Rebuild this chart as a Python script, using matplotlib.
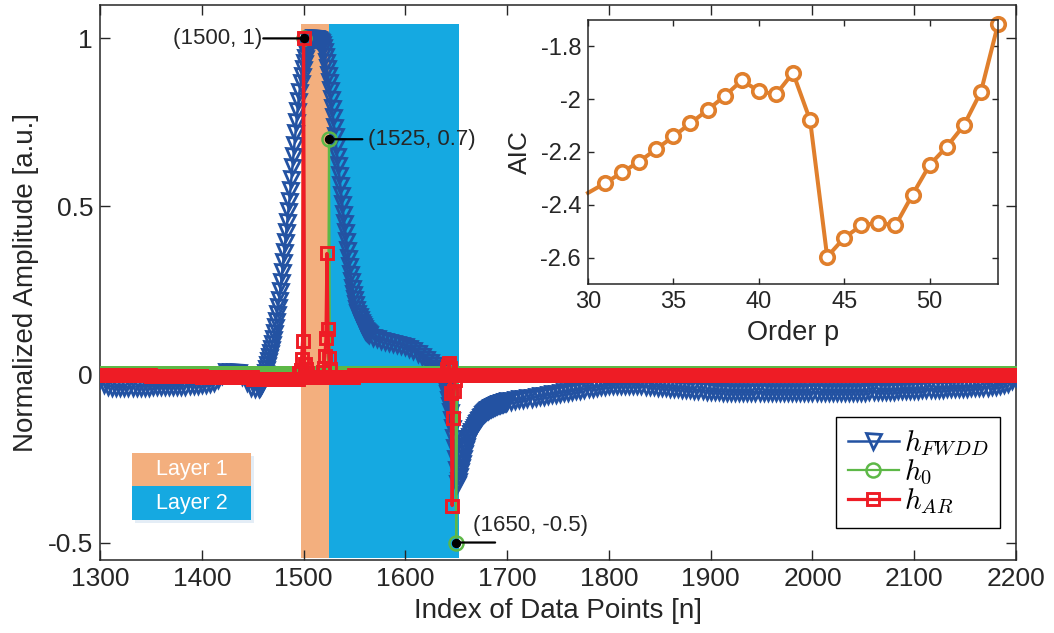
import numpy as np
import matplotlib
matplotlib.use("Agg")
import matplotlib.pyplot as plt
from matplotlib.patches import Rectangle
from matplotlib.ticker import FuncFormatter

plt.rcParams['font.family'] = ['Liberation Sans', 'DejaVu Sans']
plt.rcParams['mathtext.fontset'] = 'cm'
plt.rcParams['axes.unicode_minus'] = False

# ------------------------------------------------------------------ data
# h_FWDD (coarse in flat parts, per index on steep parts)
fwdd_x_a = np.arange(1300, 1456, 4)
fwdd_y_a = [-0.012, -0.028, -0.034, -0.036, -0.037, -0.037, -0.037, -0.037, -0.036, -0.036,
            -0.036, -0.036, -0.036, -0.035, -0.035, -0.035, -0.035, -0.035, -0.034, -0.034,
            -0.034, -0.033, -0.032, -0.031, -0.030, -0.029, -0.028, -0.026, -0.022, -0.014,
            -0.002, 0.006, 0.008, 0.008, 0.006, -0.004, -0.022, -0.036, -0.041]
fwdd_x_b = np.arange(1456, 1564)
fwdd_y_b = [-0.040, -0.037, -0.032, -0.025, -0.016, -0.006, 0.005, 0.016, 0.028, 0.040,
            0.052, 0.064, 0.077, 0.090, 0.105, 0.122, 0.140, 0.160, 0.180, 0.200,
            0.222, 0.248, 0.276, 0.305, 0.335, 0.365, 0.395, 0.425, 0.455, 0.485,
            0.515, 0.548, 0.582, 0.616, 0.650, 0.684, 0.718, 0.752, 0.785, 0.815,
            0.842, 0.866, 0.888, 0.908, 0.926, 0.942, 0.956, 0.968, 0.978, 0.986,
            0.992, 0.996, 0.999, 1.000, 1.000, 1.000, 1.000, 0.999, 0.998, 0.996,
            0.993, 0.988, 0.982, 0.975, 0.962, 0.947, 0.930, 0.912, 0.892, 0.870,
            0.846, 0.820, 0.793, 0.765, 0.737, 0.709, 0.680, 0.651, 0.622, 0.593,
            0.564, 0.535, 0.507, 0.479, 0.451, 0.424, 0.397, 0.371, 0.346, 0.322,
            0.299, 0.278, 0.258, 0.240, 0.224, 0.209, 0.196, 0.184, 0.173, 0.164,
            0.156, 0.149, 0.143, 0.138, 0.133, 0.129, 0.125, 0.122]
fwdd_x_c = np.arange(1564, 1632, 4)
fwdd_y_c = [0.119, 0.113, 0.108, 0.104, 0.101, 0.098, 0.095, 0.092, 0.089, 0.085,
            0.079, 0.072, 0.064, 0.056, 0.047, 0.038, 0.028]
fwdd_x_d = np.arange(1632, 1700)
fwdd_y_d = [0.018, 0.013, 0.008, 0.002, -0.005, -0.013, -0.022, -0.033, -0.045, -0.059,
            -0.075, -0.093, -0.113, -0.135, -0.160, -0.188, -0.218, -0.250, -0.285, -0.325,
            -0.318, -0.303, -0.288, -0.275, -0.262, -0.248, -0.235, -0.223, -0.212, -0.202,
            -0.193, -0.185, -0.178, -0.171, -0.165, -0.159, -0.153, -0.148, -0.143, -0.138,
            -0.134, -0.130, -0.126, -0.122, -0.119, -0.116, -0.113, -0.110, -0.107, -0.105,
            -0.103, -0.101, -0.099, -0.097, -0.096, -0.094, -0.093, -0.092, -0.090, -0.089,
            -0.088, -0.087, -0.086, -0.085, -0.084, -0.083, -0.082, -0.081]
fwdd_x_e = np.arange(1700, 2201, 4)
fwdd_y_e = [-0.080, -0.078, -0.076, -0.074, -0.073, -0.071, -0.069, -0.067, -0.065, -0.063,
            -0.061, -0.059, -0.057, -0.055, -0.053, -0.051, -0.049, -0.047, -0.045, -0.043,
            -0.041, -0.039, -0.037, -0.035, -0.033, -0.032, -0.031, -0.030, -0.030, -0.030,
            -0.030, -0.030, -0.031, -0.032, -0.033, -0.034, -0.035, -0.036, -0.037, -0.038,
            -0.039, -0.040, -0.041, -0.042, -0.043, -0.044, -0.045, -0.046, -0.047, -0.048,
            -0.049, -0.050, -0.050, -0.051, -0.051, -0.051, -0.052, -0.052, -0.052, -0.052,
            -0.052, -0.052, -0.052, -0.052, -0.052, -0.052, -0.052, -0.052, -0.052, -0.052,
            -0.052, -0.052, -0.052, -0.052, -0.052, -0.052, -0.052, -0.052, -0.052, -0.052,
            -0.052, -0.052, -0.052, -0.052, -0.052, -0.051, -0.051, -0.051, -0.051, -0.050,
            -0.050, -0.050, -0.049, -0.049, -0.048, -0.048, -0.047, -0.047, -0.046, -0.046,
            -0.045, -0.045, -0.044, -0.044, -0.043, -0.043, -0.042, -0.042, -0.041, -0.041,
            -0.040, -0.040, -0.039, -0.039, -0.038, -0.038, -0.037, -0.037, -0.036, -0.035,
            -0.034, -0.032, -0.029, -0.024, -0.016, -0.008]

# h_0: zero everywhere except three impulses
n_index = np.arange(1300, 2201)
h0_spike_n = [1500, 1525, 1650]
h0_spike_val = [1.0, 0.7, -0.5]

# h_AR: near-zero baseline (per 50-sample block) plus spikes
ar_block_len = 50
ar_block_base = [-0.002, -0.004, -0.008, -0.013, -0.008, -0.003, -0.002, -0.001, -0.002, -0.002,
                 -0.003, -0.002, -0.002, -0.003, -0.003, -0.002, -0.002, -0.003, -0.003]
ar_spike_n = [1496, 1497, 1498, 1499, 1500, 1501, 1502, 1503,
              1519, 1520, 1521, 1522, 1523, 1524, 1525, 1526,
              1641, 1642, 1643, 1644, 1645, 1646, 1647, 1648, 1649]
ar_spike_val = [0.005, 0.012, 0.045, 0.10, 1.0, 0.03, 0.015, 0.004,
                0.008, 0.02, 0.055, 0.11, 0.36, 0.135, 0.05, 0.015,
                0.015, 0.025, 0.035, 0.02, -0.056, -0.39, -0.13, -0.05, -0.015]

# layers
layer_names = ["Layer 1", "Layer 2"]
layer_start = [1497.5, 1525]
layer_end = [1525, 1653]

# annotated points
annot_n = [1500, 1525, 1650]
annot_val = [1.0, 0.7, -0.5]
annot_text = ["(1500, 1)", "(1525, 0.7)", "(1650, -0.5)"]

# inset: AIC vs order p
aic_p = np.arange(30, 55)
aic_val = [-2.355, -2.318, -2.277, -2.236, -2.189, -2.141, -2.091, -2.041, -1.988, -1.929,
           -1.969, -1.982, -1.900, -2.079, -2.597, -2.525, -2.478, -2.468, -2.478, -2.361,
           -2.249, -2.180, -2.099, -1.972, -1.716]

# ------------------------------------------------------------------ build series
fwdd_x = np.concatenate([fwdd_x_a, fwdd_x_b, fwdd_x_c, fwdd_x_d, fwdd_x_e])
fwdd_y = np.concatenate([fwdd_y_a, fwdd_y_b, fwdd_y_c, fwdd_y_d, fwdd_y_e])

h0_y = np.zeros(len(n_index))
h0_y[np.array(h0_spike_n) - n_index[0]] = h0_spike_val

ar_y = np.repeat(ar_block_base, ar_block_len)[:len(n_index)].astype(float)
ar_y[np.array(ar_spike_n) - n_index[0]] = ar_spike_val

# ------------------------------------------------------------------ style
W, H = 1054, 633
TXT = '#262626'
C_BLUE = '#2352A2'
C_GREEN = '#5DB847'
C_RED = '#EE1C25'
C_ORANGE = '#E07F2C'
C_L1 = '#F3AF7E'
C_L2 = '#15A9E1'
PX = 72.0 / 100.0  # points per pixel


def fig_rect(x0, y0, x1, y1):
    return [x0 / W, 1 - y1 / H, (x1 - x0) / W, (y1 - y0) / H]


fig = plt.figure(figsize=(W / 100, H / 100), dpi=100)
ax = fig.add_axes(fig_rect(100, 4.8, 1016, 560))

# layer bands
for s, e, c in zip(layer_start, layer_end, [C_L1, C_L2]):
    ax.add_patch(Rectangle((s, -0.545), e - s, 1.042 + 0.545, facecolor=c,
                           edgecolor='none', zorder=1))

ax.plot(fwdd_x, fwdd_y, color=C_BLUE, lw=1.8, marker='v', ms=15 * PX,
        mfc='none', mec=C_BLUE, mew=2.0, zorder=3, label=r'$h_{FWDD}$')
ax.plot(n_index, h0_y, color=C_GREEN, lw=1.6, marker='o', ms=14 * PX,
        mfc='none', mec=C_GREEN, mew=1.8, zorder=4, label=r'$h_0$')
ax.plot(n_index, ar_y, color=C_RED, lw=2.3, marker='s', ms=12.5 * PX,
        mfc='none', mec=C_RED, mew=2.1, zorder=5, label=r'$h_{AR}$')

# annotations
line_off = [(-29, 0), (24, 0), (28, 0)]
text_off = [(-30, 0), (28, 0), (12, 12)]
text_ha = ['right', 'left', 'left']
for n, v, t, lo, to, ha in zip(annot_n, annot_val, annot_text, line_off, text_off, text_ha):
    ax.annotate('', xy=(n, v), xytext=lo, textcoords='offset points',
                arrowprops=dict(arrowstyle='-', color='black', lw=1.6,
                                shrinkA=0, shrinkB=0), zorder=7)
    ax.plot([n], [v], marker='o', ms=8 * PX, color='black', zorder=8)
    ax.annotate(t, xy=(n, v), xytext=to, textcoords='offset points',
                ha=ha, va='center', fontsize=16, color=TXT, zorder=8)

ax.set_xlim(1300, 2200)
ax.set_ylim(-0.552, 1.10)
ax.set_xticks(np.arange(1300, 2201, 100))
ax.set_yticks([-0.5, 0, 0.5, 1])
fmt = FuncFormatter(lambda v, p: ('%g' % v))
ax.yaxis.set_major_formatter(fmt)
ax.tick_params(direction='in', length=7, width=1, top=True, right=True,
               labelsize=19, colors=TXT, pad=5)
for sp in ax.spines.values():
    sp.set_color(TXT)
    sp.set_linewidth(1.1)
ax.set_xlabel('Index of Data Points [n]', fontsize=20, color=TXT, labelpad=5)
ax.set_ylabel('Normalized Amplitude [a.u.]', fontsize=20, color=TXT, labelpad=6)

# legend
leg = ax.legend(loc='upper right', bbox_to_anchor=((1000 - 100) / 916, (560 - 417) / 555.2),
                borderaxespad=0, fontsize=21, frameon=True, fancybox=False,
                handlelength=1.75, handletextpad=0.18, labelspacing=0.0,
                borderpad=0.4)
leg.get_frame().set_edgecolor('black')
leg.get_frame().set_linewidth(1.0)
leg.get_frame().set_alpha(1)
leg.set_zorder(10)

# layer label boxes (axes fraction)
bx0 = (132 - 100) / 916
bw = (251 - 132) / 916
box_y = [((560 - 486) / 555.2, (486 - 453) / 555.2), ((560 - 520) / 555.2, (520 - 486) / 555.2)]
for (y0, hh) in box_y:
    ax.add_patch(Rectangle((bx0 + 0.003, y0 - 0.006), bw, hh, transform=ax.transAxes,
                           facecolor='#e4edf6', edgecolor='none', zorder=8))
for (y0, hh), name, c in zip(box_y, layer_names, [C_L1, C_L2]):
    ax.add_patch(Rectangle((bx0, y0), bw, hh, transform=ax.transAxes,
                           facecolor=c, edgecolor='none', zorder=9))
    ax.text(bx0 + bw / 2, y0 + hh / 2, name, transform=ax.transAxes, ha='center',
            va='center', fontsize=15.5, color='white', zorder=10)

# inset
axi = fig.add_axes(fig_rect(588, 20, 998, 284))
axi.set_zorder(11)
axi.plot(aic_p, aic_val, color=C_ORANGE, lw=2.9, marker='o', ms=13.5 * PX,
         mfc='white', mec=C_ORANGE, mew=2.6, markevery=slice(1, None), clip_on=False)
axi.set_xlim(30, 54)
axi.set_ylim(-2.7, -1.7)
axi.set_xticks([30, 35, 40, 45, 50])
axi.set_yticks([-2.6, -2.4, -2.2, -2.0, -1.8])
axi.yaxis.set_major_formatter(fmt)
axi.tick_params(direction='in', length=4, width=1, top=True, right=True,
                labelsize=17, colors=TXT, pad=5)
for sp in axi.spines.values():
    sp.set_color(TXT)
    sp.set_linewidth(1.1)
axi.set_xlabel('Order p', fontsize=19.5, color=TXT, labelpad=5)
axi.set_ylabel('AIC', fontsize=19, color=TXT, labelpad=6)

fig.savefig('out.png', dpi=100)
